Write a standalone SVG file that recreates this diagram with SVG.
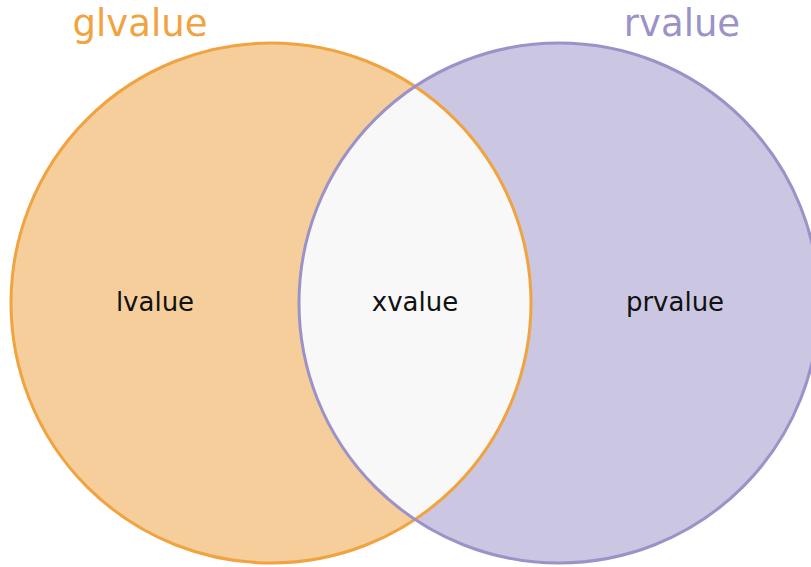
<svg xmlns="http://www.w3.org/2000/svg" width="811" height="567" viewBox="0 0 811 567">
<style>
.lbl{font-family:"DejaVu Sans",sans-serif;font-size:26px;fill:#111;text-anchor:middle}
.ttl{font-family:"DejaVu Sans",sans-serif;font-size:37px;text-anchor:middle}
</style>
<defs>
<clipPath id="clipL"><circle cx="271" cy="303" r="260"/></clipPath>
</defs>
<rect width="811" height="567" fill="#ffffff"/>
<g id="glvalue">
<circle cx="271" cy="303" r="260" fill="#f6ce9b"/>
<text class="ttl" x="140" y="36" fill="#f0a33e">glvalue</text>
</g>
<g id="rvalue">
<circle cx="559" cy="303" r="260" fill="#cbc6e1"/>
<text class="ttl" x="682" y="36" fill="#9c92c8">rvalue</text>
</g>
<g id="xvalue-region">
<circle cx="559" cy="303" r="260" fill="#f8f8f8" clip-path="url(#clipL)"/>
</g>
<g id="connectors">
<circle cx="271" cy="303" r="260" fill="none" stroke="#f0a33e" stroke-width="3"/>
<circle cx="559" cy="303" r="260" fill="none" stroke="#9c92c8" stroke-width="3"/>
</g>
<g id="lvalue"><text class="lbl" x="155" y="311">lvalue</text></g>
<g id="xvalue"><text class="lbl" x="415" y="311">xvalue</text></g>
<g id="prvalue"><text class="lbl" x="675" y="311">prvalue</text></g>
</svg>
